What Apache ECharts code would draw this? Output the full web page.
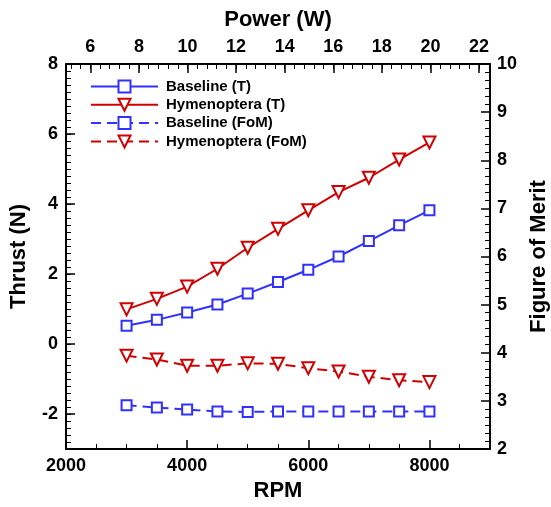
<!DOCTYPE html>
<html>
<head>
<meta charset="utf-8">
<script src="https://cdn.jsdelivr.net/npm/echarts@6/dist/echarts.min.js"></script>
<style>
html,body{margin:0;padding:0;background:#fff;}
#chart{width:551px;height:507px;}
</style>
</head>
<body>
<div id="chart"></div>
<script>
// Data
var rpm = [3000, 3500, 4000, 4500, 5000, 5500, 6000, 6500, 7000, 7500, 8000];
var baselineT = [0.52, 0.69, 0.90, 1.13, 1.44, 1.77, 2.12, 2.50, 2.94, 3.39, 3.82];
var hymenopteraT = [0.99, 1.29, 1.64, 2.15, 2.75, 3.29, 3.82, 4.34, 4.75, 5.27, 5.76];
var baselineFoM = [2.91, 2.86, 2.82, 2.78, 2.77, 2.78, 2.78, 2.78, 2.78, 2.78, 2.78];
var hymenopteraFoM = [3.94, 3.86, 3.73, 3.73, 3.78, 3.77, 3.68, 3.61, 3.50, 3.43, 3.39];
var seriesNames = ['Baseline (T)', 'Hymenoptera (T)', 'Baseline (FoM)', 'Hymenoptera (FoM)'];

function pairs(xs, ys) { return xs.map(function (x, i) { return [x, ys[i]]; }); }

var FONT = '"Liberation Sans", Arial, Helvetica, sans-serif';
var BLUE = '#3030ff';
var RED = '#d00000';
var lbl = { fontFamily: FONT, fontWeight: 'bold', fontSize: 18, color: '#000' };
var nameStyle = { fontFamily: FONT, fontWeight: 'bold', fontSize: 22, color: '#000' };
var axLine = { show: true, onZero: false, lineStyle: { color: '#000', width: 2 } };
var majTick = { show: true, inside: true, length: 9, lineStyle: { color: '#000', width: 1.5 } };
var minTickStyle = { color: '#000', width: 1 };
function plain(v) { return String(Math.round(v * 100) / 100); }

var chart = echarts.init(document.getElementById('chart'), null, { renderer: 'canvas' });

function mkSeries(name, data, yIdx, color, symbol, dashed) {
  return {
    name: name, type: 'line', xAxisIndex: 0, yAxisIndex: yIdx,
    data: data,
    symbol: symbol,
    symbolSize: symbol === 'emptyRect' ? 10 : 12,
    symbolRotate: symbol === 'emptyTriangle' ? 180 : 0,
    lineStyle: { color: color, width: 2, type: dashed ? [10, 6] : 'solid' },
    itemStyle: { color: color, borderColor: color, borderWidth: 2 },
    emphasis: { disabled: true },
    animation: false,
    z: 5
  };
}

var option = {
  backgroundColor: '#fff',
  animation: false,
  grid: { left: 66, right: 61, top: 64, bottom: 58, containLabel: false, outerBoundsMode: 'none' },
  legend: {
    data: seriesNames,
    orient: 'vertical',
    left: 85, top: 74,
    itemWidth: 67, itemHeight: 15, itemGap: 3.3,
    textStyle: { fontFamily: FONT, fontWeight: 'bold', fontSize: 15, color: '#000', padding: [0, 0, 0, 3] },
    selectedMode: false
  },
  xAxis: [
    {
      type: 'value', position: 'bottom', min: 2000, max: 9000, interval: 2000,
      name: 'RPM', nameLocation: 'middle', nameGap: 30, nameTextStyle: nameStyle,
      axisLine: axLine, axisTick: majTick,
      minorTick: { show: true, splitNumber: 4, length: 5, lineStyle: minTickStyle },
      axisLabel: Object.assign({ margin: 8, showMaxLabel: false, formatter: plain }, lbl),
      splitLine: { show: false }
    },
    {
      type: 'value', position: 'top', min: 5, max: 22.45, minInterval: 2, maxInterval: 2, splitNumber: 9,
      name: 'Power (W)', nameLocation: 'middle', nameGap: 33, nameTextStyle: nameStyle,
      axisLine: axLine, axisTick: majTick,
      axisLabel: Object.assign({ margin: 8, showMinLabel: false, showMaxLabel: false, formatter: plain }, lbl),
      splitLine: { show: false }
    },
    {
      type: 'value', position: 'top', min: 5, max: 22.45, minInterval: 0.4, maxInterval: 0.4, splitNumber: 40,
      axisLine: { show: false, onZero: false }, axisLabel: { show: false },
      axisTick: { show: true, inside: true, length: 5, lineStyle: minTickStyle },
      splitLine: { show: false }
    }
  ],
  yAxis: [
    {
      type: 'value', position: 'left', min: -3, max: 8, minInterval: 2, maxInterval: 2, splitNumber: 5,
      name: 'Thrust (N)', nameLocation: 'middle', nameGap: 36, nameTextStyle: nameStyle,
      axisLine: axLine, axisTick: majTick,
      axisLabel: Object.assign({ margin: 8, showMinLabel: false, formatter: plain }, lbl),
      splitLine: { show: false }
    },
    {
      type: 'value', position: 'right', min: 2, max: 10, interval: 1,
      name: 'Figure of Merit', nameLocation: 'middle', nameGap: 37, nameRotate: 90, nameTextStyle: nameStyle,
      axisLine: axLine, axisTick: majTick,
      minorTick: { show: true, splitNumber: 6, length: 5, lineStyle: minTickStyle },
      axisLabel: Object.assign({ margin: 7, formatter: plain }, lbl),
      splitLine: { show: false }
    },
    {
      type: 'value', position: 'left', min: -3, max: 8, interval: 0.2,
      axisLine: { show: false, onZero: false }, axisLabel: { show: false },
      axisTick: { show: true, inside: true, length: 5, lineStyle: minTickStyle },
      splitLine: { show: false }
    }
  ],
  series: [
    mkSeries(seriesNames[0], pairs(rpm, baselineT), 0, BLUE, 'emptyRect', false),
    mkSeries(seriesNames[1], pairs(rpm, hymenopteraT), 0, RED, 'emptyTriangle', false),
    mkSeries(seriesNames[2], pairs(rpm, baselineFoM), 1, BLUE, 'emptyRect', true),
    mkSeries(seriesNames[3], pairs(rpm, hymenopteraFoM), 1, RED, 'emptyTriangle', true)
  ]
};
chart.setOption(option);
</script>
</body>
</html>
